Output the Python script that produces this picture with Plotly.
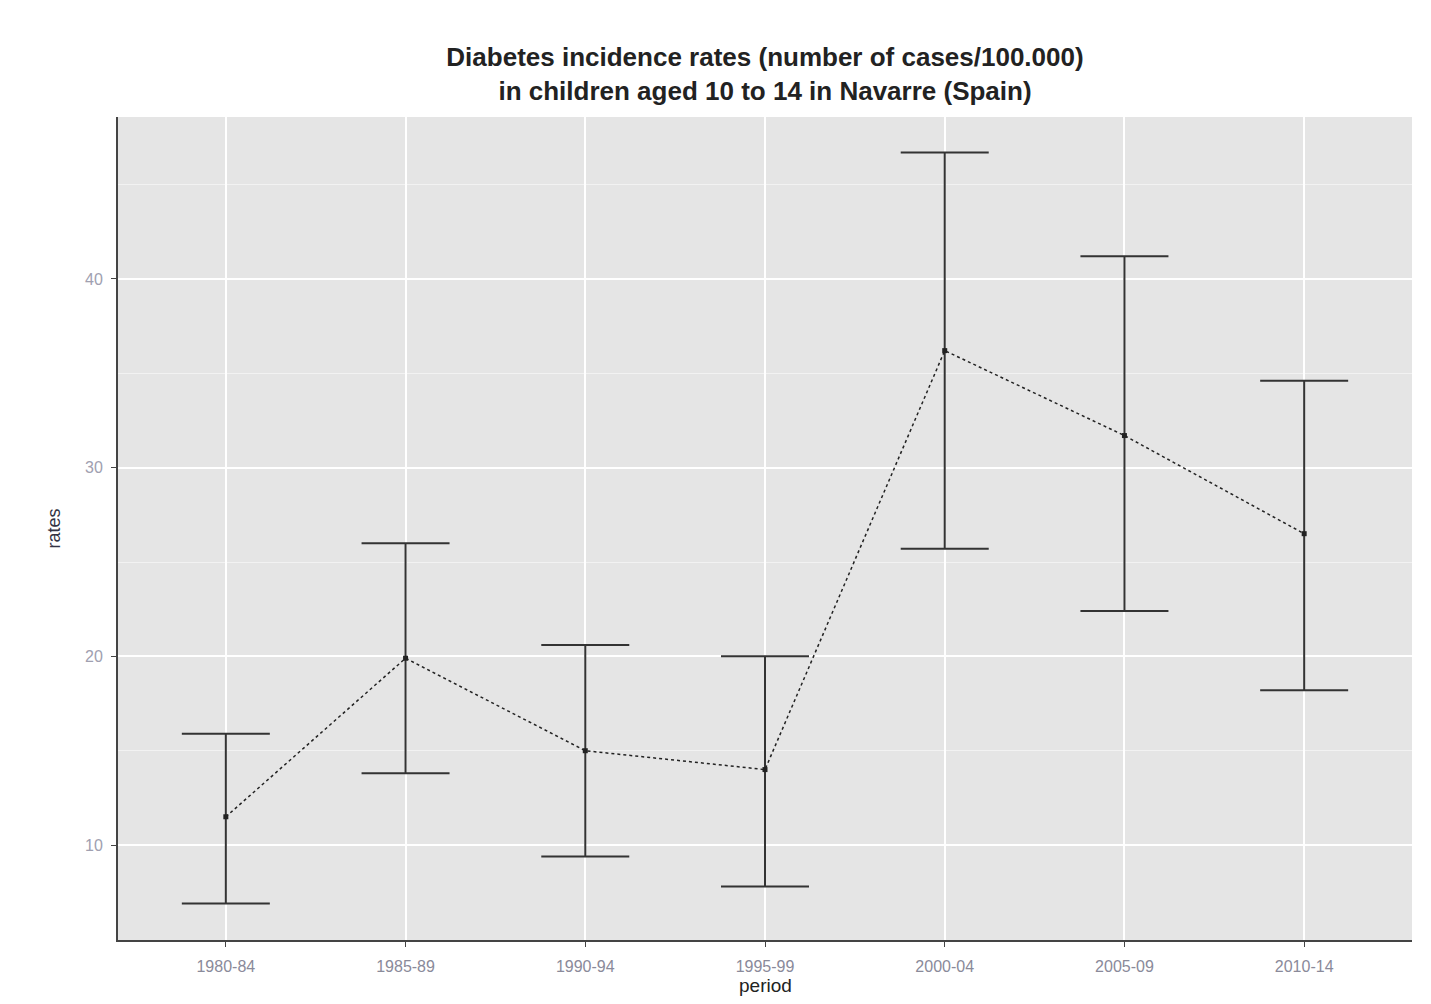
import plotly.graph_objects as go

periods = ["1980-84", "1985-89", "1990-94", "1995-99", "2000-04", "2005-09", "2010-14"]
rates = [11.5, 19.9, 15.0, 14.0, 36.2, 31.7, 26.5]
upper = [15.9, 26.0, 20.6, 20.0, 46.7, 41.2, 34.6]
lower = [6.9, 13.8, 9.4, 7.8, 25.7, 22.4, 18.2]

err_plus = [u - r for u, r in zip(upper, rates)]
err_minus = [r - l for r, l in zip(rates, lower)]

fig = go.Figure()
fig.add_trace(go.Scatter(
    x=periods, y=rates, mode="lines+markers",
    line=dict(color="#222222", width=1.5, dash="dot"),
    marker=dict(color="#222222", size=5, symbol="square"),
    error_y=dict(type="data", symmetric=False, array=err_plus, arrayminus=err_minus,
                 color="#333333", thickness=2, width=44),
    showlegend=False,
))

fig.update_layout(
    width=1415, height=988,
    paper_bgcolor="white", plot_bgcolor="#e5e5e5",
    margin=dict(l=110, r=11, t=109, b=56, autoexpand=False),
    title=dict(
        text="<b>Diabetes incidence rates (number of cases/100.000)<br>in children aged 10 to 14 in Navarre (Spain)</b>",
        x=0.5, xanchor="center", xref="paper",
        yref="container", y=0.941, yanchor="middle",
        font=dict(family="Liberation Sans, Arial", size=26, color="#222222"),
    ),
    font=dict(family="Liberation Sans, Arial"),
    annotations=[dict(
        text="period", xref="paper", yref="paper", x=0.5, y=0,
        xanchor="center", yanchor="top", yshift=-33, showarrow=False,
        font=dict(size=19, color="#222222"),
    )],
)
fig.update_xaxes(
    type="category", categoryorder="array", categoryarray=periods,
    range=[-0.6, 6.6], automargin=False,
    showgrid=True, gridcolor="white", gridwidth=1.5,
    showline=True, linecolor="#444444", linewidth=2,
    ticks="outside", ticklen=5, tickcolor="#444444", ticklabelstandoff=6,
    tickfont=dict(size=16, color="#8a8a9a"),
    zeroline=False,
)
fig.update_yaxes(
    range=[4.97, 48.58], automargin=False,
    tickvals=[10, 20, 30, 40],
    showgrid=True, gridcolor="white", gridwidth=1.5,
    minor=dict(tickvals=[15, 25, 35, 45], showgrid=True, gridcolor="#f2f2f2", gridwidth=1),
    showline=True, linecolor="#444444", linewidth=2,
    ticks="outside", ticklen=5, tickcolor="#444444", ticklabelstandoff=5,
    tickfont=dict(size=16, color="#a0a0b0"),
    title=dict(text="rates", font=dict(size=18, color="#333344"), standoff=20),
    zeroline=False,
)

fig.write_html("out.html")
